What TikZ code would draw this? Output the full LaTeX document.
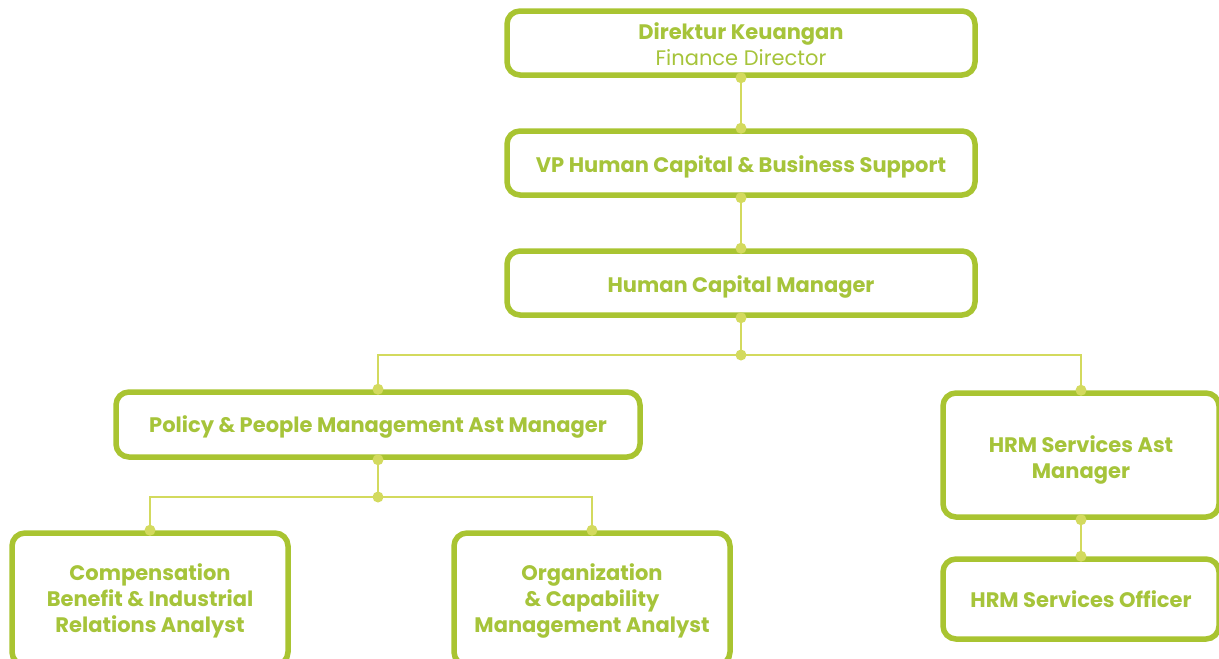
\documentclass[tikz,border=0pt]{standalone}
\usepackage{fontspec}
\setmainfont{Poppins}
\definecolor{boxgreen}{HTML}{A9C431}
\definecolor{textgreen}{HTML}{A6C43A}
\definecolor{linkgreen}{HTML}{D3DA5E}
\begin{document}
\begin{tikzpicture}[x=1pt,y=-1pt,
  box/.style={draw=boxgreen, line width=5.5pt, rounded corners=13pt, fill=white,
    inner sep=0pt},
  boxtext/.style={text=textgreen, font=\fontsize{21}{26}\selectfont\bfseries,
    align=center, inner sep=0pt},
  link/.style={draw=linkgreen, line width=2.8pt},
  branch/.style={draw=linkgreen, line width=2.2pt},
  dot/.style={fill=linkgreen}]
\useasboundingbox (0,0) rectangle (1219,659);
\clip (0,0) rectangle (1219,659);

\coordinate (j1) at (741,355);
\coordinate (j2) at (378,497);

% boxes
\node[box, minimum width=468pt, minimum height=64pt] (dir) at (741,43) {};
\node[box, minimum width=468pt, minimum height=64pt] (vp) at (741,163) {};
\node[box, minimum width=468pt, minimum height=64pt] (hcm) at (741,283) {};
\node[box, minimum width=524pt, minimum height=65pt] (pol) at (378,424.5) {};
\node[box, minimum width=276pt, minimum height=124pt] (hrma) at (1081,455) {};
\node[box, minimum width=276pt, minimum height=80pt] (hrmo) at (1081,599) {};
\node[box, minimum width=276pt, minimum height=132pt] (comp) at (150,599) {};
\node[box, minimum width=276pt, minimum height=132pt] (org) at (592,599) {};

% box titles
\node[boxtext] (dirT) at ([yshift=-1pt]dir.center)
  {Direktur Keuangan\\{\mdseries Finance Director}};
\node[boxtext] (vpT) at ([yshift=-4pt]vp.center)
  {VP Human Capital \& Business Support};
\node[boxtext] (hcmT) at ([yshift=-4pt]hcm.center)
  {Human Capital Manager};
\node[boxtext] (polT) at ([yshift=-2pt]pol.center)
  {Policy \& People Management Ast Manager};
\node[boxtext] (hrmaT) at ([yshift=-5pt]hrma.center)
  {HRM Services Ast\\Manager};
\node[boxtext] (hrmoT) at ([yshift=0pt]hrmo.center)
  {HRM Services Officer};
\node[boxtext] (compT) at ([yshift=-2pt]comp.center)
  {Compensation\\Benefit \& Industrial\\Relations Analyst};
\node[boxtext] (orgT) at ([yshift=-2pt]org.center)
  {Organization\\\& Capability\\Management Analyst};

% reporting lines
\draw[link] (dir.south) -- (vp.north);
\draw[link] (vp.south) -- (hcm.north);
\draw[link] (hcm.south) -- (j1);
\draw[branch] (pol.north) |- (j1) -| (hrma.north);
\draw[link] (pol.south) -- (j2);
\draw[branch] (comp.north) |- (j2) -| (org.north);
\draw[link] (hrma.south) -- (hrmo.north);

% junction dots
\foreach \p in {dir.south, vp.north, vp.south, hcm.north, hcm.south, j1,
  pol.north, hrma.north, pol.south, j2, comp.north, org.north,
  hrma.south, hrmo.north}
  \fill[dot] (\p) circle (5.5pt);
\end{tikzpicture}
\end{document}
